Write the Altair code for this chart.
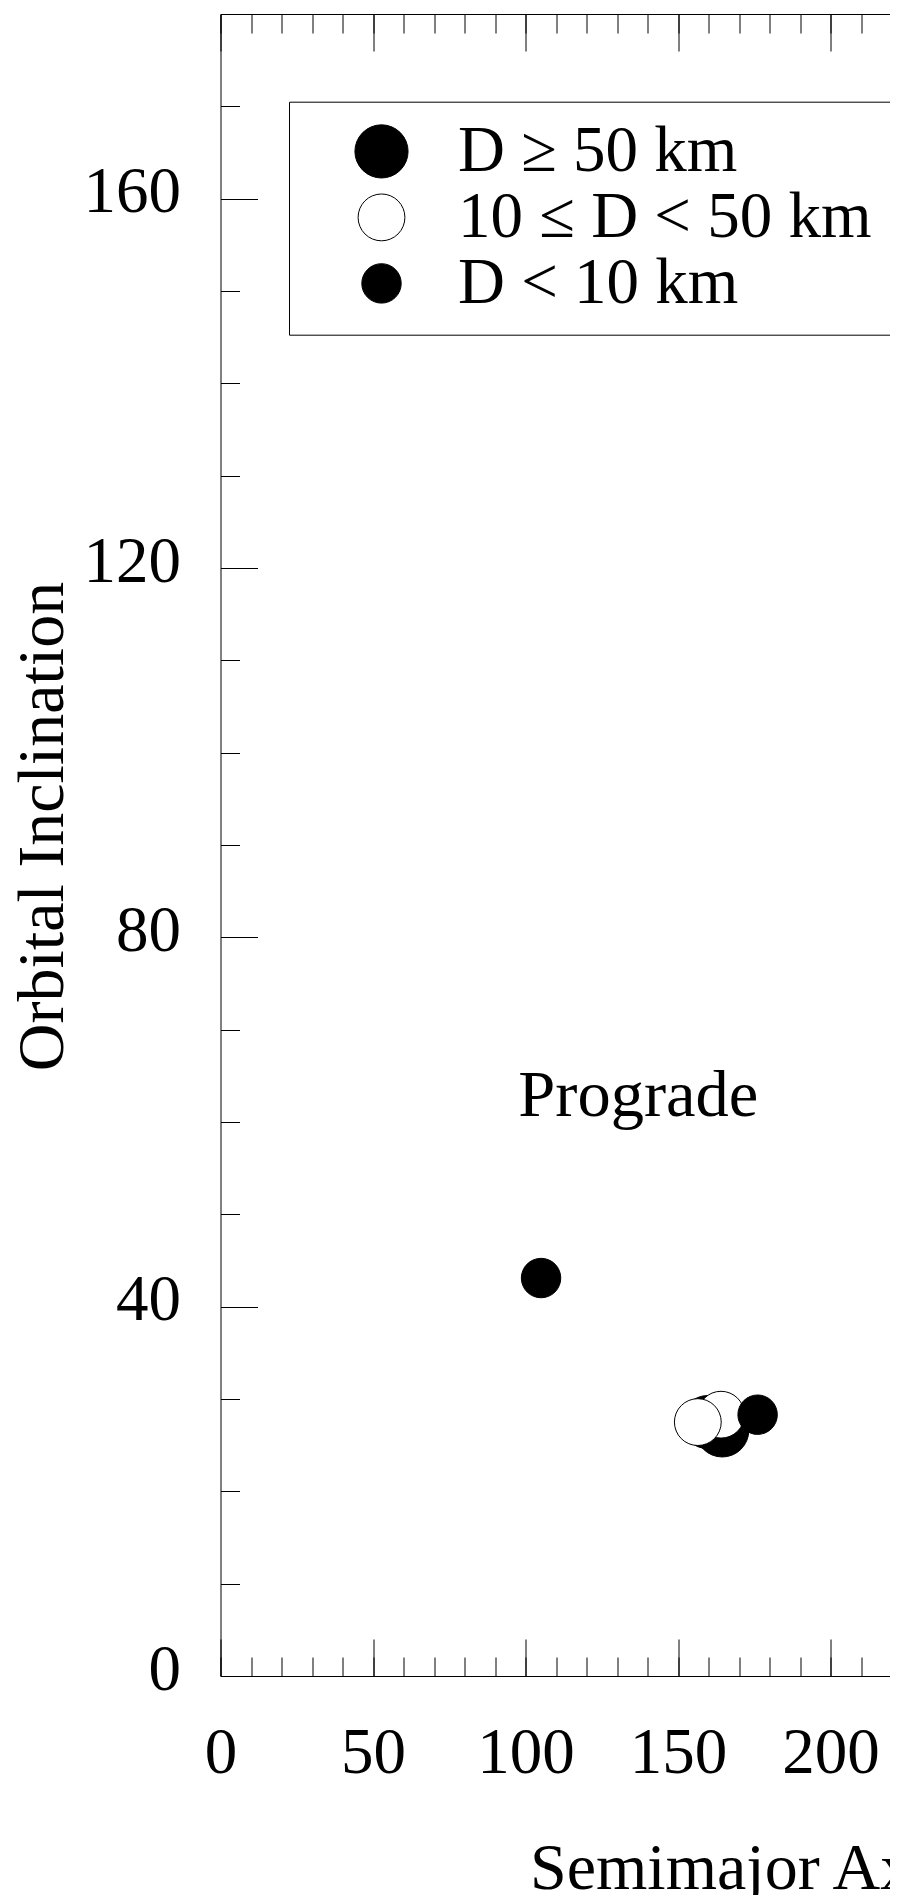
import altair as alt
import pandas as pd

# ---- data ----
moon_names = ["Himalia", "Elara", "Lysithea", "Leda", "Themisto", "Dia"]
semimajor_axis = [159.8, 164.5, 164.1, 156.5, 105.1, 176.1]
inclination = [27.5, 26.6, 28.3, 27.5, 43.1, 28.3]
size_class = ["D ≥ 50 km", "D ≥ 50 km", "10 ≤ D < 50 km", "10 ≤ D < 50 km",
              "D < 10 km", "D < 10 km"]
draw_order = [1, 2, 3, 4, 5, 6]

classes = ["D ≥ 50 km", "10 ≤ D < 50 km", "D < 10 km"]
class_fill = ["black", "white", "black"]
class_stroke = ["black", "black", "black"]
class_size = [2827, 1555, 370]

x_major = [0, 50, 100, 150, 200, 250, 300, 350, 400]
x_minor = list(range(0, 401, 10))
y_major = [0, 40, 80, 120, 160]
y_minor = list(range(0, 181, 10))

annot_text = ["Prograde"]
annot_x = [137.0]
annot_y = [60.6]

W = 1220
H = 1662
FONT = "Liberation Serif"
FS = 65
SVG_W = 882
SVG_H = 1887
PAD_L = 212.5
PAD_T = 6

df = pd.DataFrame({"name": moon_names, "a": semimajor_axis, "i": inclination,
                   "cls": size_class, "z": draw_order})
ann = pd.DataFrame({"t": annot_text, "a": annot_x, "i": annot_y})

xs = alt.Scale(domain=[0, 400], nice=False, zero=False)
ys = alt.Scale(domain=[0, 180], nice=False, zero=False)


def tick_layer(ox, oy, xv, yv, size):
    return alt.Chart(df).mark_point(opacity=0).encode(
        x=alt.X("a:Q", scale=xs, axis=alt.Axis(
            orient=ox, offset=-H, values=xv, tickSize=size, labels=False,
            domain=False, grid=False, title=None, tickColor="black", tickWidth=1)),
        y=alt.Y("i:Q", scale=ys, axis=alt.Axis(
            orient=oy, offset=-W, values=yv, tickSize=size, labels=False,
            domain=False, grid=False, title=None, tickColor="black", tickWidth=1)),
    )


ticks = [
    tick_layer("top", "right", x_major, y_major, 37),
    tick_layer("top", "right", x_minor, y_minor, 19),
    tick_layer("bottom", "left", x_major, y_major, 37),
    tick_layer("bottom", "left", x_minor, y_minor, 19),
]

leg = alt.Legend(orient="none", legendX=68.5, legendY=87.7, title=None,
                 clipHeight=63.4, rowPadding=0)

points = alt.Chart(df).mark_point(filled=True, shape="circle", opacity=1,
                                  strokeWidth=1).encode(
    x=alt.X("a:Q", scale=xs, axis=alt.Axis(
        orient="bottom", values=x_major, ticks=False, tickSize=0, domain=False,
        grid=False, labelFlush=False, labelPadding=45, labelFontSize=FS,
        labelFont=FONT, labelColor="black", title="Semimajor Axis (R_J)",
        titleFont=FONT, titleFontSize=66, titleFontWeight="normal",
        titleColor="black", titleX=309, titleY=160, titleAlign="left")),
    y=alt.Y("i:Q", scale=ys, axis=alt.Axis(
        orient="left", values=y_major, ticks=False, tickSize=0, domain=False,
        grid=False, labelFlush=False, labelPadding=40, labelOffset=-7,
        labelFontSize=FS, labelFont=FONT, labelColor="black",
        title="Orbital Inclination", titleFont=FONT, titleFontSize=66,
        titleFontWeight="normal", titleColor="black", titleX=-144, titleY=812)),
    fill=alt.Fill("cls:O", scale=alt.Scale(domain=classes, range=class_fill), legend=leg),
    stroke=alt.Stroke("cls:O", scale=alt.Scale(domain=classes, range=class_stroke), legend=leg),
    size=alt.Size("cls:O", scale=alt.Scale(domain=classes, range=class_size), legend=leg),
    order=alt.Order("z:Q"),
)

label = alt.Chart(ann).mark_text(font=FONT, fontSize=66.5, align="center",
                                 baseline="alphabetic", color="black").encode(
    x=alt.X("a:Q", scale=xs, axis=None),
    y=alt.Y("i:Q", scale=ys, axis=None),
    text="t:N",
)

chart = alt.layer(*ticks, points, label).resolve_axis(
    x="independent", y="independent"
).properties(
    width=W, height=H,
    autosize=alt.AutoSizeParams(type="none"),
    padding={"left": PAD_L, "top": PAD_T, "right": SVG_W - W - PAD_L,
             "bottom": SVG_H - H - PAD_T},
).configure_view(stroke="black", strokeWidth=1).configure_legend(
    labelFont=FONT, labelFontSize=FS, labelColor="black", labelLimit=1000,
    padding=18, strokeColor="black", fillColor="white", symbolOffset=42,
    labelOffset=44, rowPadding=0, clipHeight=63.4, symbolStrokeWidth=1,
    symbolType="circle",
)

chart.save("out.html", embed_options={"renderer": "svg", "actions": False})
